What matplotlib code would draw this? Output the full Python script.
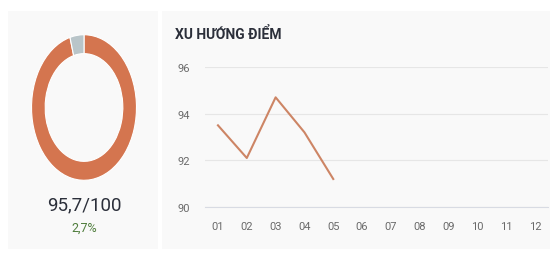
import matplotlib
matplotlib.use("Agg")
import matplotlib.pyplot as plt
from matplotlib.patches import Rectangle

plt.rcParams.update({
    "font.family": ["Roboto", "Open Sans", "DejaVu Sans"],
    "font.size": 8,
})

# ── Data ──
score = 95.7
score_max = 100
change_label = "2,7%"
months = ["01", "02", "03", "04", "05", "06", "07", "08", "09", "10", "11", "12"]
trend = [93.5, 92.1, 94.7, 93.2, 91.2]
y_ticks = [90, 92, 94, 96]

C_ORANGE = "#d4754f"
C_GREY_SLICE = "#b9c5c9"
C_LINE = "#cd8565"
C_TEXT = "#2b2f3a"
C_GREEN = "#4f7d3c"
C_TICK = "#6a6a6a"
C_PANEL = "#f9f9f9"
C_GRID = "#e6e6e6"

W, H = 555, 255
fig = plt.figure(figsize=(W / 100, H / 100), dpi=100)
fig.patch.set_facecolor("white")

# background panels
fig.patches.append(Rectangle((8 / W, 1 - 250 / H), 150 / W, 238 / H,
                             transform=fig.transFigure, facecolor=C_PANEL,
                             edgecolor="none", zorder=-10))
fig.patches.append(Rectangle((162 / W, 1 - 250 / H), 388 / W, 238 / H,
                             transform=fig.transFigure, facecolor=C_PANEL,
                             edgecolor="none", zorder=-10))

# ── Donut (stretched vertically like the source) ──
d_left, d_top, d_w, d_h = 31, 35, 106, 147
ax_d = fig.add_axes([d_left / W, 1 - (d_top + d_h) / H, d_w / W, d_h / H])
ax_d.pie([score, score_max - score], colors=[C_ORANGE, C_GREY_SLICE],
         startangle=90, counterclock=False, radius=1,
         wedgeprops=dict(width=0.26, edgecolor="white", linewidth=0.8))
ax_d.set_xlim(-1.01, 1.01)
ax_d.set_ylim(-1.01, 1.01)
ax_d.set_aspect("auto")
ax_d.axis("off")

cx = d_left + d_w / 2
score_txt = f"{score:.1f}".replace(".", ",") + f"/{score_max}"
fig.text(cx / W, 1 - 205 / H, score_txt, ha="center", va="center",
         fontsize=13.5, color=C_TEXT)
fig.text(cx / W, 1 - 228 / H, change_label, ha="center", va="center",
         fontsize=9, color=C_GREEN)

# ── Trend line ──
fig.text(175 / W, 1 - 35 / H, "XU HƯỚNG ĐIỂM", ha="left", va="center",
         fontsize=10, fontweight="bold", color=C_TEXT)

ax = fig.add_axes([205 / W, 1 - 208 / H, 343 / W, 140 / H])
ax.set_facecolor("none")
x = list(range(1, len(months) + 1))
ax.plot(x[:len(trend)], trend, color=C_LINE, lw=1.5)
ax.set_xlim(0.55, 12.45)
ax.set_ylim(90, 96)
ax.set_yticks(y_ticks)
ax.set_xticks(x)
ax.set_xticklabels(months)
ax.grid(axis="y", color=C_GRID, lw=0.8)
ax.set_axisbelow(True)
for s in ["top", "right", "left"]:
    ax.spines[s].set_visible(False)
ax.spines["bottom"].set_color("#d8dbe3")
ax.tick_params(axis="both", length=0, labelsize=8, colors=C_TICK)
ax.tick_params(axis="y", pad=11)
ax.tick_params(axis="x", pad=10)

fig.savefig("out.png", dpi=100, facecolor="white")
